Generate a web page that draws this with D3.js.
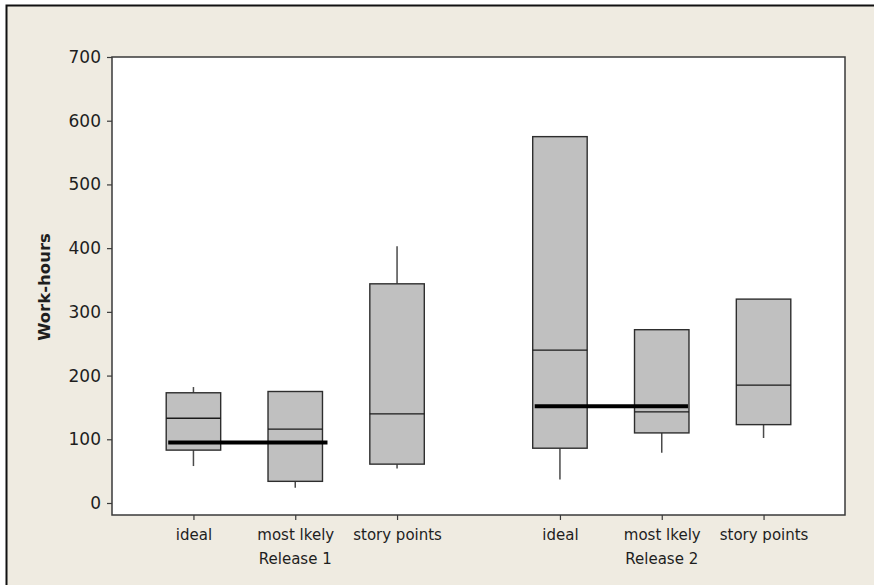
<!DOCTYPE html>
<html>
<head>
<meta charset="utf-8">
<script src="https://cdn.jsdelivr.net/npm/d3@7"></script>
<style>
  html, body { margin: 0; padding: 0; background: #ffffff; }
  svg { display: block; }
  text { font-family: "DejaVu Sans", Verdana, sans-serif; fill: #1e1e1e; }
</style>
</head>
<body>
<svg id="chart" width="874" height="585"></svg>
<script>
// Groups and categories along the x axis
const releases = ["Release 1", "Release 2"];
const categories = ["ideal", "most lkely", "story points"];

// Five-number summaries per box, in release order then category order
const whiskerLow  = [58, 24, 54, 37, 79, 102];
const q1          = [83, 34, 61, 86, 110, 123];
const median      = [133, 116, 140, 240, 143, 185];
const q3          = [173, 175, 344, 575, 272, 320];
const whiskerHigh = [182, 175, 403, 575, 272, 320];

// Thick reference line drawn across ideal and most likely in each release
const releaseRefValue = [95, 152];

const yTicks = [0, 100, 200, 300, 400, 500, 600, 700];

const W = 874, H = 585;
const plot = { left: 112, right: 845, top: 57, bottom: 515 };
const svg = d3.select("#chart");

// Panel background with a frame on its top and left edges
svg.append("rect").attr("x", 6).attr("y", 5).attr("width", W - 6).attr("height", H - 5)
  .attr("fill", "#efebe1");
svg.append("path").attr("d", `M6.5,${H} V5.5 H${W}`)
  .attr("fill", "none").attr("stroke", "#111").attr("stroke-width", 2);

// Slot positions: categories 0,1,2 in release 1 and 3.6,4.6,5.6 in release 2
const groupOffset = 3.6;
const pos = (r, c) => r * groupOffset + c;
const x = d3.scaleLinear().domain([-0.8, 6.4]).range([plot.left, plot.right]);
const y = d3.scaleLinear().domain([0, 700]).range([503, plot.top]);
const slot = x(1) - x(0);
const boxW = slot * 0.535;

// Plot area
svg.append("rect")
  .attr("x", plot.left).attr("y", plot.top)
  .attr("width", plot.right - plot.left).attr("height", plot.bottom - plot.top)
  .attr("fill", "#ffffff").attr("stroke", "#3a3a3a").attr("stroke-width", 1.5);

// Y axis
const yAxis = d3.axisLeft(y).tickValues(yTicks).tickSize(5).tickPadding(6);
const yg = svg.append("g").attr("transform", `translate(${plot.left},0)`).call(yAxis);
yg.select(".domain").remove();
yg.selectAll(".tick line").attr("stroke", "#3a3a3a").attr("stroke-width", 1.2);
yg.selectAll(".tick text").style("font-size", "17px").attr("fill", "#1a1a1a")
  .style("font-family", "'DejaVu Sans', Verdana, sans-serif");

svg.append("text")
  .attr("transform", `translate(50,${(plot.top + plot.bottom) / 2 + 1}) rotate(-90)`)
  .attr("text-anchor", "middle")
  .style("font-size", "16.5px").style("font-weight", "bold")
  .text("Work-hours");

// Flattened boxes
const boxes = [];
releases.forEach((rel, r) => {
  categories.forEach((cat, c) => {
    const i = r * categories.length + c;
    boxes.push({ rel, cat, p: pos(r, c), lo: whiskerLow[i], q1: q1[i], med: median[i], q3: q3[i], hi: whiskerHigh[i] });
  });
});

// X axis ticks and category labels
const xAxis = d3.axisBottom(x).tickValues(boxes.map(d => d.p)).tickSize(5).tickPadding(9)
  .tickFormat((d, i) => boxes[i].cat);
const xg = svg.append("g").attr("transform", `translate(0,${plot.bottom})`).call(xAxis);
xg.select(".domain").remove();
xg.selectAll(".tick line").attr("stroke", "#3a3a3a").attr("stroke-width", 1.2);
xg.selectAll(".tick text").style("font-size", "15px").attr("fill", "#1e1e1e")
  .style("font-family", "'DejaVu Sans', Verdana, sans-serif");

// Release labels under the middle category
svg.selectAll("text.release").data(releases).join("text")
  .attr("class", "release")
  .attr("x", (d, r) => x(pos(r, 1)))
  .attr("y", 564)
  .attr("text-anchor", "middle")
  .style("font-size", "15px")
  .text(d => d);

const g = svg.append("g");

// Whiskers
g.selectAll("line.wlo").data(boxes.filter(d => d.lo < d.q1)).join("line")
  .attr("x1", d => x(d.p)).attr("x2", d => x(d.p))
  .attr("y1", d => y(d.q1)).attr("y2", d => y(d.lo))
  .attr("stroke", "#4a4a4a").attr("stroke-width", 1.5);
g.selectAll("line.whi").data(boxes.filter(d => d.hi > d.q3)).join("line")
  .attr("x1", d => x(d.p)).attr("x2", d => x(d.p))
  .attr("y1", d => y(d.q3)).attr("y2", d => y(d.hi))
  .attr("stroke", "#4a4a4a").attr("stroke-width", 1.5);

// Interquartile boxes
g.selectAll("rect.box").data(boxes).join("rect")
  .attr("x", d => x(d.p) - boxW / 2).attr("width", boxW)
  .attr("y", d => y(d.q3)).attr("height", d => y(d.q1) - y(d.q3))
  .attr("fill", "#c0c0c0").attr("stroke", "#2e2e2e").attr("stroke-width", 1.4);

// Medians
g.selectAll("line.med").data(boxes).join("line")
  .attr("x1", d => x(d.p) - boxW / 2).attr("x2", d => x(d.p) + boxW / 2)
  .attr("y1", d => y(d.med)).attr("y2", d => y(d.med))
  .attr("stroke", "#1a1a1a").attr("stroke-width", 1.3);

// Reference lines spanning ideal and most likely; the first overhangs its box a little
const refOverhang = [5, -1];
g.selectAll("line.ref").data(releaseRefValue).join("line")
  .attr("x1", (d, r) => x(pos(r, 0)) - boxW / 2 + 2)
  .attr("x2", (d, r) => x(pos(r, 1)) + boxW / 2 + refOverhang[r])
  .attr("y1", d => y(d)).attr("y2", d => y(d))
  .attr("stroke", "#000").attr("stroke-width", 4);
</script>
</body>
</html>
